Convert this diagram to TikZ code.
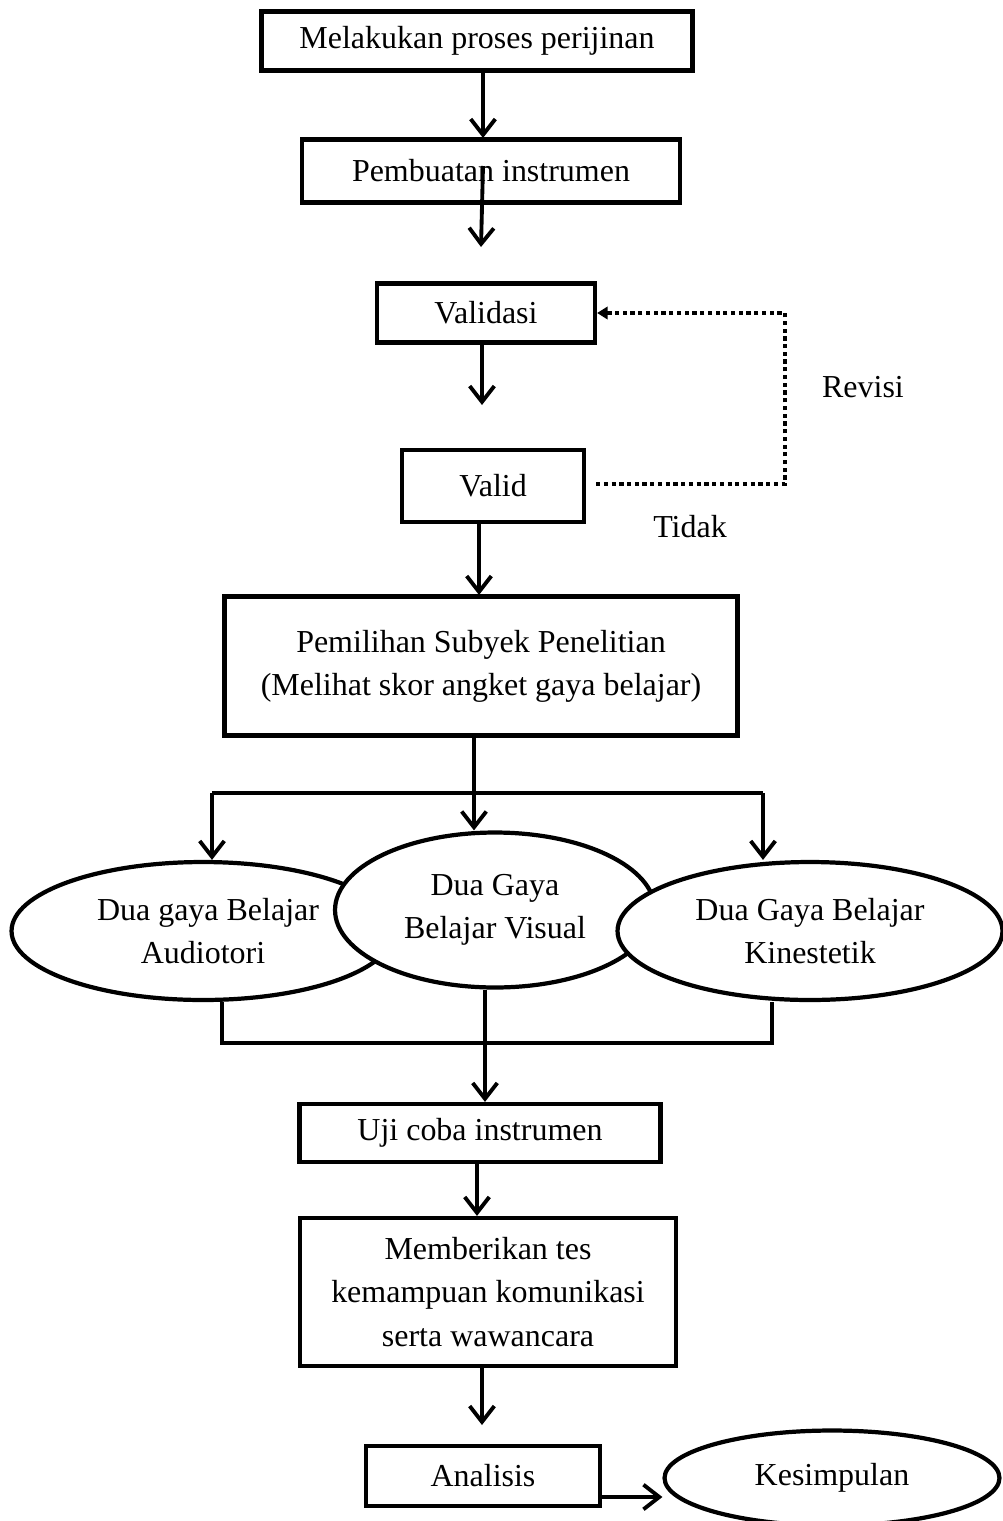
\documentclass[tikz,border=0pt]{standalone}
\usepackage{fontspec}
\setmainfont{Liberation Serif}
\usetikzlibrary{arrows.meta}
\usetikzlibrary{shapes.geometric}
\usetikzlibrary{calc}

\begin{document}
\begin{tikzpicture}
  [x=0.02cm,y=-0.02cm,every node/.style={font=\fontsize{18.2}{24.5}\selectfont,align=center,inner sep=0pt}]
  \tikzstyle{box}=[draw,line width=2.4pt,fill=white]
  \tikzstyle{oval}=[ellipse,draw,line width=2.4pt,fill=white]
  \tikzstyle{arr}=[line width=2.2pt,-{Straight Barb[length=9pt,width=14pt]}]
  \tikzstyle{ln}=[line width=2.2pt]
  \tikzstyle{dots}=[line width=2.4pt,dotted,-{Triangle[length=6pt,width=7pt]}]
  \useasboundingbox (0,0) rectangle (1002,1521);

  \node[box,minimum width=8.62cm,minimum height=1.18cm] (izin) at (477,41) {Melakukan proses perijinan};
  \node[box,minimum width=7.56cm,minimum height=1.26cm] (buat) at (491,171) {Pembuatan instrumen};
  \node[box,minimum width=4.36cm,minimum height=1.18cm] (valsi) at (486,313) {Validasi};
  \node[box,minimum width=3.64cm,minimum height=1.44cm] (valid) at (493,486) {Valid};
  \node[box,minimum width=10.26cm,minimum height=2.78cm] (pilih) at (481,666) {Pemilihan Subyek Penelitian\\(Melihat skor angket gaya belajar)};

  \node[oval,minimum width=7.66cm,minimum height=2.76cm] (audio) at (203,931) {\hspace*{0.2cm}Dua gaya Belajar\\Audiotori};
  \node[oval,minimum width=6.4cm,minimum height=3.1cm] (visual) at (495,910) {Dua Gaya\\Belajar Visual};
  \node[oval,minimum width=7.7cm,minimum height=2.76cm] (kines) at (810,931) {Dua Gaya Belajar\\Kinestetik};

  \node[box,minimum width=7.22cm,minimum height=1.16cm] (uji) at (480,1133) {Uji coba instrumen};
  \node[box,minimum width=7.52cm,minimum height=2.96cm] (tes) at (488,1292) {Memberikan tes\\kemampuan komunikasi\\serta wawancara};
  \node[box,minimum width=4.68cm,minimum height=1.2cm] (anal) at (483,1476) {Analisis};
  \node[oval,minimum width=6.7cm,minimum height=1.9cm] (simpul) at (832,1478) {Kesimpulan};

  \node (revisi) at (863,387) {Revisi};
  \node (tidak) at (690,527) {Tidak};

  \coordinate (c1) at (481,247);
  \coordinate (c2) at (482,405);
  \coordinate (c3) at (482,1425);
  \coordinate (kanan) at (785,484);
  \coordinate (kiri) at (212,793);
  \coordinate (tengah) at (474,793);
  \coordinate (ujung) at (763,793);
  \coordinate (bawah) at (485,1043);

  \draw[arr] (483,71) -- (483,138);
  \draw[arr] (483,166) -- (c1);
  \draw[arr] (valsi.south -| c2) -- (c2);
  \draw[dots] (valid.east |- kanan) ++(10,0) -- (kanan) -- (kanan |- valsi.east) -- (valsi.east);
  \draw[arr] (valid.south -| 479,0) -- (479,595);

  \draw[ln] (pilih.south -| tengah) -- (tengah);
  \draw[ln] (kiri) -- (ujung);
  \draw[arr] (tengah) -- (visual.north -| tengah);
  \draw[arr] (kiri) -- (audio.north -| kiri);
  \draw[arr] (ujung) -- (kines.north -| ujung);

  \draw[ln] (audio.south -| 222,0) -- (222,1043) -- (772,1043) -- (kines.south -| 772,0);
  \draw[arr] (visual.south -| bawah) -- (uji.north -| bawah);
  \draw[arr] (uji.south -| 477,0) -- (tes.north -| 477,0);
  \draw[arr] (tes.south -| c3) -- (c3);
  \draw[arr] (anal.east |- 0,1497) -- (simpul.west |- 0,1497);
\end{tikzpicture}
\end{document}
